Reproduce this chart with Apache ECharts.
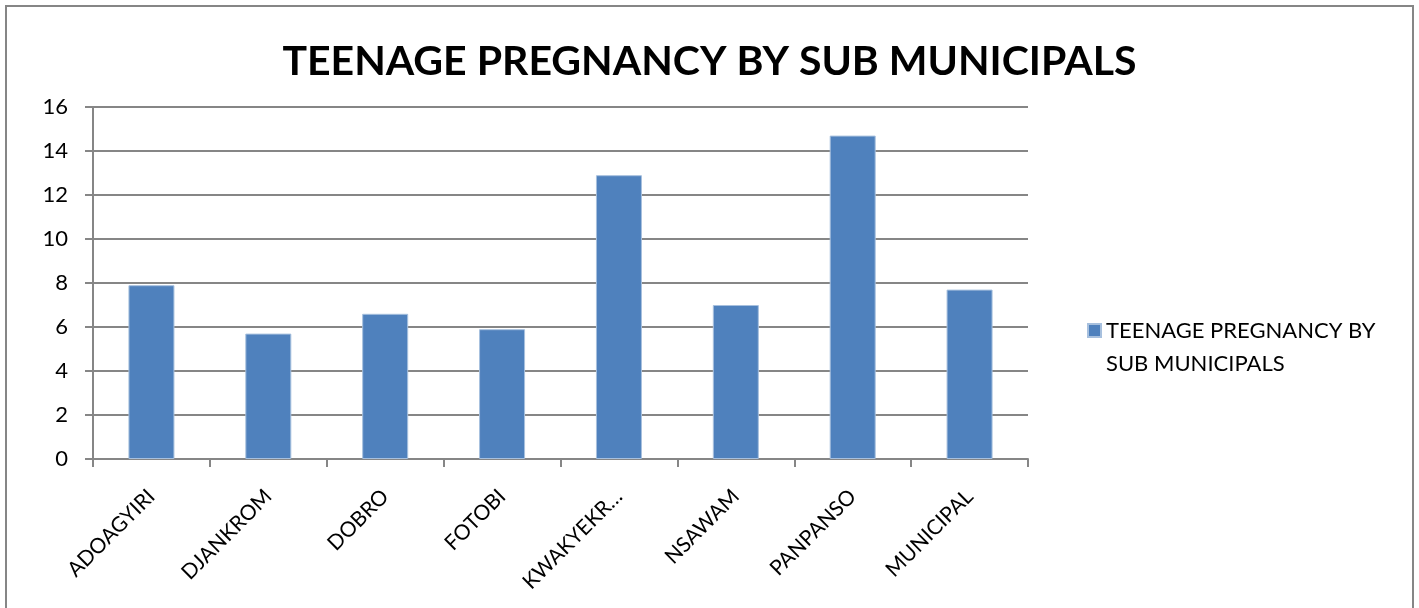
<!DOCTYPE html>
<html>
<head>
<meta charset="utf-8">
<script src="https://cdn.jsdelivr.net/npm/echarts@6/dist/echarts.min.js"></script>
<style>
html,body{margin:0;padding:0;background:#fff;}
#main{width:1419px;height:608px;}
</style>
</head>
<body>
<div id="main"></div>
<script>
const titleText = 'TEENAGE PREGNANCY BY SUB MUNICIPALS';
const seriesName = 'TEENAGE PREGNANCY BY SUB MUNICIPALS';
const legendLines = ['TEENAGE PREGNANCY BY', 'SUB MUNICIPALS'];
const categories = ['ADOAGYIRI', 'DJANKROM', 'DOBRO', 'FOTOBI', 'KWAKYEKR…', 'NSAWAM', 'PANPANSO', 'MUNICIPAL'];
const values = [7.9, 5.7, 6.6, 5.9, 12.9, 7.0, 14.7, 7.7];
const yTicks = { min: 0, max: 16, interval: 2 };

const FONT = 'Lato';
const chart = echarts.init(document.getElementById('main'));
chart.setOption({
  animation: false,
  backgroundColor: '#ffffff',
  title: {
    text: titleText,
    left: 'center',
    top: 36,
    textStyle: { fontFamily: FONT, fontWeight: 'bold', fontSize: 41, color: '#000' }
  },
  legend: {
    data: [seriesName],
    orient: 'vertical',
    left: 1087,
    top: 281,
    padding: 0,
    icon: 'rect',
    itemWidth: 13,
    itemHeight: 13,
    formatter: function () { return '\n' + legendLines.join('\n'); },
    textStyle: { fontFamily: FONT, fontSize: 22, color: '#000', lineHeight: 33 }
  },
  grid: { left: 93, right: 391, top: 107, bottom: 149, containLabel: false },
  xAxis: {
    type: 'category',
    data: categories,
    axisLine: { lineStyle: { color: '#868686', width: 2 } },
    axisTick: { show: true, length: 8, lineStyle: { color: '#868686', width: 2 } },
    axisLabel: { rotate: 45, fontFamily: FONT, fontSize: 21, color: '#000', margin: 34, interval: 0 }
  },
  yAxis: {
    type: 'value',
    min: yTicks.min, max: yTicks.max, interval: yTicks.interval,
    axisLine: { show: true, lineStyle: { color: '#868686', width: 2 } },
    axisTick: { show: true, length: 8, lineStyle: { color: '#868686', width: 2 } },
    splitLine: { lineStyle: { color: '#868686', width: 2 } },
    axisLabel: { fontFamily: FONT, fontSize: 22, color: '#000', margin: 25 }
  },
  series: [{
    name: seriesName,
    type: 'bar',
    data: values,
    barWidth: 46,
    itemStyle: { color: '#4f81bd', borderColor: '#a7c0de', borderWidth: 1 }
  }],
  graphic: [{
    type: 'rect',
    shape: { x: 6, y: 6, width: 1407, height: 620 },
    style: { fill: 'none', stroke: '#868686', lineWidth: 2 },
    silent: true
  }]
});
</script>
</body>
</html>
